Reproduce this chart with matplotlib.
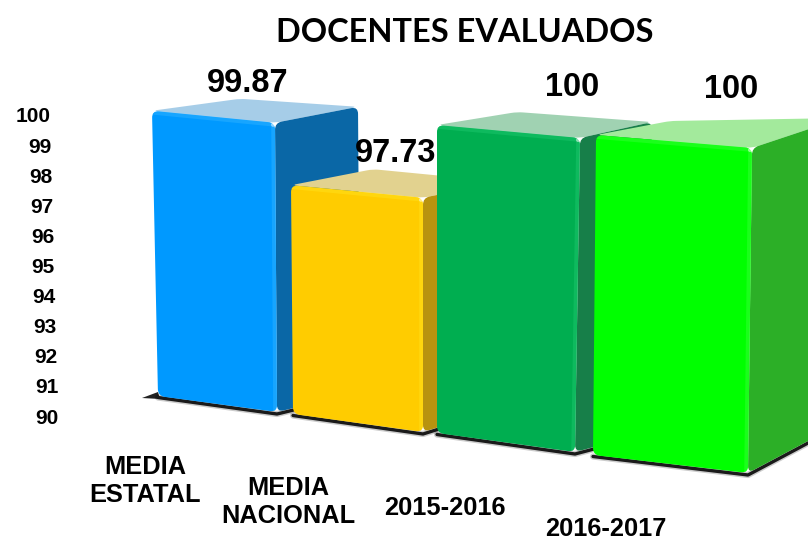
import numpy as np
import matplotlib
matplotlib.use("Agg")
import matplotlib.pyplot as plt
from matplotlib.patches import PathPatch, Polygon, Circle
from matplotlib.path import Path

categories = ["MEDIA\nESTATAL", "MEDIA\nNACIONAL", "2015-2016", "2016-2017"]
values = [99.87, 97.73, 100, 100]
value_labels = ["99.87", "97.73", "100", "100"]
ticks = [100, 99, 98, 97, 96, 95, 94, 93, 92, 91, 90]
front_colors = ["#0099FF", "#FFCC00", "#00AE50", "#00FF00"]
side_colors = ["#0A67A6", "#B8930F", "#177F49", "#2CAF27"]
top_colors = ["#A6CDE8", "#E2D28F", "#A0D2B2", "#A3EA9C"]
light_colors = ["#2AB0FF", "#FFE01A", "#1AC46A", "#30FF30"]

# perspective layout, in pixels of the picture
x_left = [152, 291, 437, 596]
x_right = [275, 423, 580, 752]
x_left_base = [158, 293, 437, 593]
x_right_base = [277, 423, 575, 748]
base_left = [396, 414, 433, 455]
base_right = [412, 432, 452, 473]
unit_left = [28.9, 29.6, 30.8, 32.0]
unit_right = [29.3, 30.3, 31.4, 32.5]
back_dx = [88, 82, 80, 74]
back_dy = [-12, -16, -13, -14]
side_dx = [83, 80, 72, 90]
side_top_dy = [-16, -16, -16, -30]
side_bot_dy = [-20, -25, -19, -48]
label_x = [248, 396, 572, 731]
label_y = [83, 154, 88, 89]
cat_x = [145, 288, 445, 606]
cat_y = [481, 502, 508, 529]
floor = 90


def rounded(points, r=6):
    # closed polygon with soft corners
    pts = np.array(points, dtype=float)
    n = len(pts)
    verts, codes = [], []
    for i in range(n):
        p, prev, nxt = pts[i], pts[i - 1], pts[(i + 1) % n]
        a = p + (prev - p) / np.linalg.norm(prev - p) * r
        b = p + (nxt - p) / np.linalg.norm(nxt - p) * r
        verts += [a, p, b]
        codes += [Path.MOVETO if i == 0 else Path.LINETO, Path.CURVE3, Path.CURVE3]
    verts.append(verts[0])
    codes.append(Path.CLOSEPOLY)
    return Path(verts, codes)


fig = plt.figure(figsize=(8.08, 5.40), dpi=100)
ax = fig.add_axes([0, 0, 1, 1])
ax.set_xlim(0, 808)
ax.set_ylim(540, 0)
ax.axis("off")

# floor shadow left of the first bar
ax.add_patch(Polygon([(142, 398), (158, 392), (160, 399)], color="#222222", lw=0))

for i, v in enumerate(values):
    z = 10 * (i + 1)
    h = v - floor
    tl = (x_left[i], base_left[i] - h * unit_left[i])
    tr = (x_right[i], base_right[i] - h * unit_right[i])
    bl = (x_left_base[i], base_left[i])
    br = (x_right_base[i], base_right[i])
    back = (tl[0] + back_dx[i], tl[1] + back_dy[i])
    rt = (tr[0] + side_dx[i], tr[1] + side_top_dy[i])
    rb = (br[0] + side_dx[i], br[1] + side_bot_dy[i])

    # shadow along the floor
    sx = [bl[0], br[0], rb[0]]
    sy = [bl[1] + 1.5, br[1] + 2, rb[1] + 2]
    ax.plot(sx, sy, color="black", lw=4.5, alpha=0.2, solid_capstyle="round", zorder=z)
    ax.plot(sx, sy, color="#1a1a1a", lw=2.4, solid_capstyle="round", zorder=z + 1)

    ax.add_patch(PathPatch(rounded([tl, back, rt, tr], 6), fc=top_colors[i], ec="none", zorder=z + 2))
    ax.add_patch(PathPatch(rounded([tr, rt, rb, br], 7), fc=side_colors[i], ec="none", zorder=z + 3))

    front = PathPatch(rounded([tl, tr, br, bl], 7), fc=front_colors[i], ec="none", zorder=z + 4)
    ax.add_patch(front)

    # bevel along the top and right edges of the front face
    bevel = ax.plot([tl[0], tr[0] - 1, br[0] - 1], [tl[1] + 1, tr[1] + 1, br[1]],
                    color=light_colors[i], lw=4, alpha=0.55, solid_joinstyle="round", zorder=z + 5)[0]
    bevel.set_clip_path(front)
    ax.add_patch(Circle((tr[0] - 2, tr[1] + 2), 2, color="white", alpha=0.5, lw=0, zorder=z + 6))

    ax.text(label_x[i], label_y[i], value_labels[i], ha="center", va="center",
            fontsize=23.5, fontweight="bold", family="Liberation Sans", color="black", zorder=100)
    ax.text(cat_x[i], cat_y[i], categories[i], ha="center", va="center", fontsize=18.3,
            fontweight="bold", family="Liberation Sans", color="black", linespacing=1.22, zorder=100)

for t in ticks:
    # the value axis leans slightly to the right toward its foot
    ax.text(51 + (100 - t) * 0.8, 418 - (t - floor) * 30.1, str(t), ha="right", va="center",
            fontsize=15, fontweight="bold", family="Liberation Sans", color="black")

ax.text(465, 32, "DOCENTES EVALUADOS", ha="center", va="center", fontsize=23.4,
        fontweight="bold", family="Lato", color="black")

fig.savefig("out.png", dpi=100)
